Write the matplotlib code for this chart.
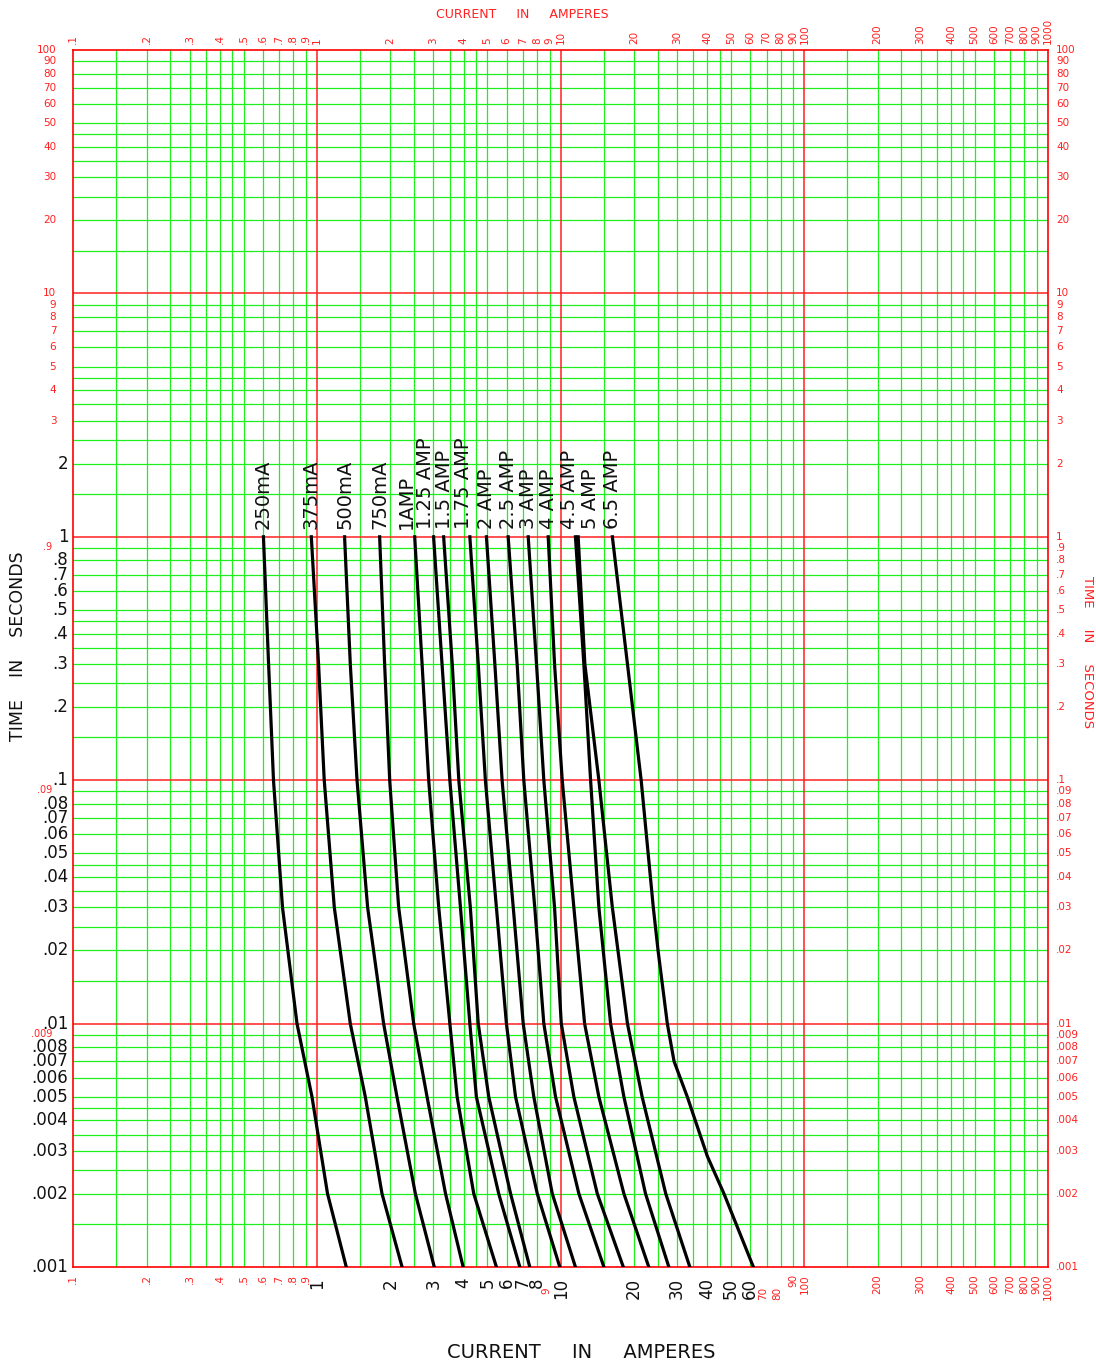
import matplotlib
matplotlib.use('Agg')
import matplotlib.pyplot as plt
import matplotlib.transforms as mtransforms
from matplotlib.ticker import NullLocator

plt.rcParams['font.family'] = ['DejaVu Sans']

# ---------------- data (time in seconds, current in amperes) ----------------
time_pts = [1, 0.3, 0.1, 0.03, 0.01, 0.005, 0.002, 0.001]
i_250mA = [0.603, 0.633, 0.663, 0.722, 0.828, 0.954, 1.105, 1.319]
i_375mA = [0.948, 1.015, 1.071, 1.178, 1.370, 1.579, 1.849, 2.235]
i_500mA = [1.298, 1.370, 1.460, 1.614, 1.877, 2.13, 2.534, 3.03]
i_750mA = [1.808, 1.895, 1.988, 2.164, 2.494, 2.83, 3.37, 3.98]
i_1A = [2.518, 2.70, 2.874, 3.16, 3.51, 3.76, 4.40, 5.45]
i_1p25A = [3.01, 3.26, 3.51, 3.88, 4.24, 4.51, 5.57, 6.80]
i_1p5A = [3.31, 3.59, 3.82, 4.26, 4.59, 5.07, 6.23, 7.47]
i_1p75A = [4.24, 4.59, 4.91, 5.45, 5.99, 6.53, 8.02, 9.92]
i_2A = [4.96, 5.37, 5.75, 6.39, 7.02, 7.76, 9.24, 11.5]
i_2p5A = [6.09, 6.63, 7.06, 7.83, 8.53, 9.53, 11.88, 15.05]
i_3A = [7.36, 7.96, 8.53, 9.44, 10.06, 11.33, 14.14, 18.08]
i_4A = [8.89, 9.44, 10.15, 11.33, 12.54, 14.35, 18.18, 23.0]
i_4p5A = [11.5, 12.45, 13.27, 14.35, 16.03, 18.18, 22.3, 27.8]
i_5A = [11.8, 12.57, 14.35, 16.3, 18.8, 21.6, 27.0, 33.9]
time_65 = [1, 0.3, 0.1, 0.03, 0.02, 0.01, 0.007, 0.005, 0.00285, 0.002, 0.001]
i_6p5A = [16.3, 18.8, 21.4, 24.0, 25.1, 27.4, 29.2, 33.1, 40.0, 46.8, 61.8]

fuse_labels = ['250mA', '375mA', '500mA', '750mA', '1AMP', '1.25 AMP', '1.5 AMP',
               '1.75 AMP', '2 AMP', '2.5 AMP', '3 AMP', '4 AMP', '4.5 AMP',
               '5 AMP', '6.5 AMP']
label_x = [0.603, 0.948, 1.298, 1.808, 2.33, 2.79, 3.33, 3.99, 4.96, 6.09,
           7.36, 8.89, 10.9, 13.3, 16.3]

x_tick_labels = ['.1', '.2', '.3', '.4', '.5', '.6', '.7', '.8', '.9',
                 '1', '2', '3', '4', '5', '6', '7', '8', '9',
                 '10', '20', '30', '40', '50', '60', '70', '80', '90',
                 '100', '200', '300', '400', '500', '600', '700', '800', '900', '1000']
x_bottom_black = ['1', '2', '3', '4', '5', '6', '7', '8', '10', '20', '30', '40', '50', '60']
x_bottom_low = ['9', '70', '80']

y_tick_labels = ['100', '90', '80', '70', '60', '50', '40', '30', '20',
                 '10', '9', '8', '7', '6', '5', '4', '3', '2',
                 '1', '.9', '.8', '.7', '.6', '.5', '.4', '.3', '.2',
                 '.1', '.09', '.08', '.07', '.06', '.05', '.04', '.03', '.02',
                 '.01', '.009', '.008', '.007', '.006', '.005', '.004', '.003', '.002', '.001']
y_left_black = ['2', '1', '.8', '.7', '.6', '.5', '.4', '.3', '.2',
                '.1', '.08', '.07', '.06', '.05', '.04', '.03', '.02',
                '.01', '.008', '.007', '.006', '.005', '.004', '.003', '.002', '.001']
y_left_small_red = ['.9', '.09', '.009']

grid_mult = [1.5, 2, 2.5, 3, 3.5, 4, 4.5, 5, 6, 7, 8, 9]

# ---------------- figure ----------------
W, H = 1096, 1364
fig = plt.figure(figsize=(W / 100, H / 100), dpi=100)
L, R, T, B = 73.3, 1048, 50, 1267
ax = fig.add_axes([L / W, 1 - B / H, (R - L) / W, (B - T) / H])
ax.set_xscale('log')
ax.set_yscale('log')
ax.set_xlim(0.1, 1000)
ax.set_ylim(0.001, 100)
for a in (ax.xaxis, ax.yaxis):
    a.set_major_locator(NullLocator())
    a.set_minor_locator(NullLocator())
for s in ax.spines.values():
    s.set_color('#ff0000')
    s.set_linewidth(1.2)

GREEN = '#1ef01e'
RED = '#ff2020'
for d in [0.1, 1, 10, 100]:
    for m in grid_mult:
        ax.axvline(d * m, color=GREEN, lw=0.9, zorder=1)
    if d > 0.1:
        ax.axvline(d, color=RED, lw=1.1, zorder=1.5)
for d in [0.001, 0.01, 0.1, 1, 10]:
    for m in grid_mult:
        ax.axhline(d * m, color=GREEN, lw=0.9, zorder=1)
    if d > 0.001:
        ax.axhline(d, color=RED, lw=1.1, zorder=1.5)

curves = [i_250mA, i_375mA, i_500mA, i_750mA, i_1A, i_1p25A, i_1p5A, i_1p75A,
          i_2A, i_2p5A, i_3A, i_4A, i_4p5A, i_5A]
for c in curves:
    ax.plot(c, time_pts, color='black', lw=2.3, zorder=3, solid_joinstyle='round')
ax.plot(i_6p5A, time_65, color='black', lw=2.3, zorder=3, solid_joinstyle='round')

for lab, xv in zip(fuse_labels, label_x):
    tr = mtransforms.offset_copy(ax.transData, fig=fig, x=0, y=8, units='dots')
    ax.text(xv, 1.0, lab, rotation=90, ha='center', va='bottom', fontsize=14,
            color='#111111', transform=tr, zorder=4)


def off(base, dx, dy):
    return mtransforms.offset_copy(base, fig=fig, x=dx, y=dy, units='dots')


xt = ax.get_xaxis_transform()
yt = ax.get_yaxis_transform()

# top and bottom tick labels
for s in x_tick_labels:
    v = float(s)
    ax.text(v, 1, s, rotation=90, ha='center', va='bottom', fontsize=7.5,
            color=RED, transform=off(xt, 0, 6), clip_on=False)
    if s in x_bottom_black:
        ax.text(v, 0, s, rotation=90, ha='center', va='top', fontsize=12,
                color='#111111', transform=off(xt, 0, -11), clip_on=False)
    elif s in x_bottom_low:
        ax.text(v, 0, s, rotation=90, ha='center', va='top', fontsize=7.5,
                color=RED, transform=off(xt, -3, -20), clip_on=False)
    else:
        ax.text(v, 0, s, rotation=90, ha='center', va='top', fontsize=7.5,
                color=RED, transform=off(xt, 0, -7), clip_on=False)

# left and right tick labels
for s in y_tick_labels:
    v = float(s)
    ax.text(1, v, s, ha='left', va='center', fontsize=7.5, color=RED,
            transform=off(yt, 8, 0), clip_on=False)
    if s in y_left_black:
        ax.text(0, v, s, ha='right', va='center_baseline', fontsize=12, color='#111111',
                transform=off(yt, -5, 2), clip_on=False)
    elif s in y_left_small_red:
        ax.text(0, v, s, ha='right', va='center', fontsize=7, color=RED,
                transform=off(yt, -21, 1), clip_on=False)
    else:
        ax.text(0, v, s, ha='right', va='center', fontsize=7.5, color=RED,
                transform=off(yt, -17, 0), clip_on=False)

# axis titles
fig.text(581 / W, 1 - 1352 / H, 'CURRENT     IN     AMPERES', ha='center', va='center',
         fontsize=14, color='#111111')
fig.text(522 / W, 1 - 15 / H, 'CURRENT     IN     AMPERES', ha='center', va='center',
         fontsize=9, color=RED)
fig.text(18 / W, 1 - 646 / H, 'TIME    IN    SECONDS', ha='center', va='center',
         rotation=90, fontsize=12.5, color='#111111')
fig.text(1088 / W, 1 - 652 / H, 'TIME     IN     SECONDS', ha='center', va='center',
         rotation=270, fontsize=9.5, color=RED)

fig.savefig('out.png', dpi=100, facecolor='white')
